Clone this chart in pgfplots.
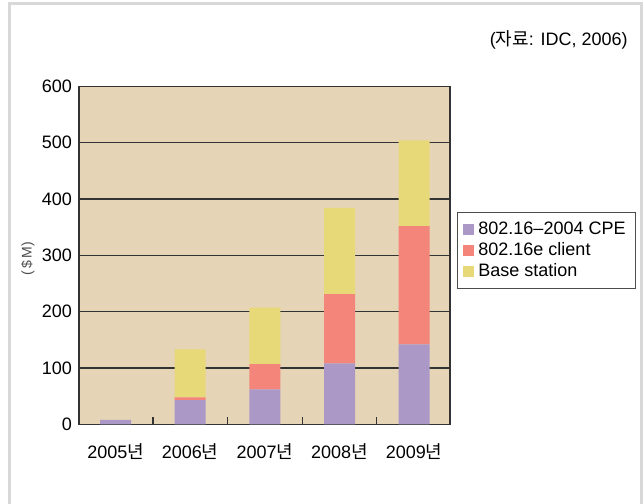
\documentclass[border=0pt]{standalone}
\usepackage{pgfplots}
\pgfplotsset{compat=1.18}
\usepackage{fontspec}
\setmainfont{Liberation Sans}
\newfontfamily\kr{Noto Sans CJK KR}
\definecolor{bg}{RGB}{229,212,182}
\definecolor{cpe}{RGB}{172,152,199}
\definecolor{cli}{RGB}{244,133,123}
\definecolor{bs}{RGB}{232,217,120}
\definecolor{framegray}{RGB}{216,216,216}
\begin{document}
\begin{tikzpicture}
\path[use as bounding box] (0pt,0pt) rectangle (322pt,-252pt);
\draw[framegray, line width=1.5pt] (4.5pt,-262pt) -- (4.5pt,-1.75pt) -- (320.5pt,-1.75pt) -- (320.5pt,-262pt);
\node[anchor=east, font=\fontsize{9}{10}\selectfont, inner sep=0pt] at (314pt,-20pt) {({\kr 자료}: IDC, 2006)};
\begin{axis}[
  at={(39.5pt,-212.15pt)}, anchor=south west,
  width=185.5pt, height=169pt, scale only axis,
  ybar stacked, bar width=15.5pt,
  xmin=-0.49, xmax=4.48, ymin=0, ymax=600,
  ytick={0,100,...,600},
  axis background/.style={fill=bg},
  ymajorgrids,
  major grid style={black!80, line width=0.6pt},
  axis line style={black!80, line width=0.6pt},
  xtick pos=bottom, ytick pos=left,
  xtick={0,1,2,3,4},
  xticklabels={2005{\kr 년},2006{\kr 년},2007{\kr 년},2008{\kr 년},2009{\kr 년}},
  major x tick style={draw=none},
  major y tick style={draw=none},
  extra x ticks={0.5,1.5,2.5,3.5},
  extra x tick labels={},
  extra x tick style={major x tick style={draw=black!80, line width=0.6pt}, major tick length=3.5pt, tick align=inside, xtick pos=bottom},
  tick label style={font=\fontsize{9}{10}\selectfont},
  xticklabel style={yshift=-6pt},
  /pgf/number format/assume math mode=true,
  ylabel={(\,\$\,M)},
  ylabel style={at={(axis description cs:-0.1375,0.49)}, anchor=center, font=\fontsize{7}{8}\selectfont, text=black!70},
  legend style={at={(axis description cs:1.019,0.6275)}, anchor=north west, draw=black!70, fill=white, font=\fontsize{9}{10}\selectfont, inner xsep=3pt, inner ysep=3.5pt, row sep=0pt, nodes={inner ysep=1.2pt}},
  legend cell align=left,
  legend image code/.code={\fill[#1] (0pt,-2.75pt) rectangle (5.5pt,2.75pt);},
]
\addplot[fill=cpe, draw=none] coordinates {(0,8) (1,43) (2,62) (3,108) (4,142)};
\addplot[fill=cli, draw=none] coordinates {(0,0) (1,5) (2,45) (3,123) (4,210)};
\addplot[fill=bs, draw=none] coordinates {(0,0) (1,85) (2,100) (3,153) (4,152)};
\legend{802.16--2004 CPE, 802.16e client, Base station}
\end{axis}
\end{tikzpicture}
\end{document}
